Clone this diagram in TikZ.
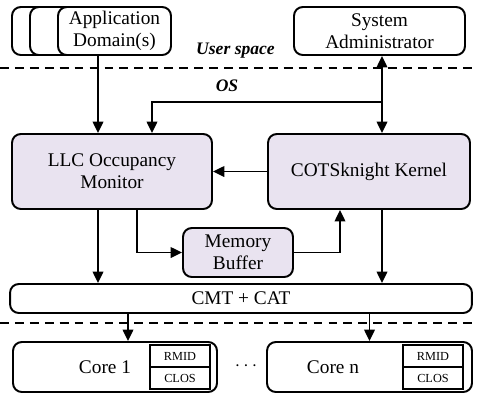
\documentclass[tikz,border=0pt]{standalone}
\usepackage{fontspec}
\setmainfont{Liberation Serif}
\usetikzlibrary{arrows.meta}

\definecolor{lavender}{RGB}{233,227,240}

\tikzset{
    box/.style={draw, line width=1.1pt, rounded corners=5pt, align=center, inner sep=0pt},
    pbox/.style={box, fill=lavender},
    cell/.style={draw, line width=0.6pt, minimum width=1.2cm, minimum height=0.44cm, inner sep=0pt, font=\fontsize{7}{8}\selectfont},
    lbl/.style={font=\bfseries\itshape}
}

\begin{document}
\begin{tikzpicture}[x=0.02cm, y=-0.02cm, line width=1.1pt, >={Triangle[length=6.5pt,width=6pt]},
    every node/.append style={font=\fontsize{11}{12.5}\selectfont}]
    \useasboundingbox (0,0) rectangle (477,393);

    % user space
    \node[box, minimum width=2.26cm, minimum height=0.96cm] (appc) at (68.5,31) {};
    \node[box, fill=white, minimum width=2.26cm, minimum height=0.96cm] (appb) at (86.5,31) {};
    \node[box, fill=white, minimum width=2.26cm, minimum height=0.96cm] (app) at (114.5,31) {Application\\Domain(s)};
    \node[box, minimum width=3.42cm, minimum height=0.96cm] (admin) at (379.5,31) {System\\Administrator};
    \node[lbl] (user) at (235.5,51) {User space};
    \draw[dashed, dash pattern=on 5pt off 3.5pt] (0,68) -- (477,68);
    \node[lbl] (os) at (227,85.5) {OS};

    % OS
    \node[pbox, minimum width=4cm, minimum height=1.5cm] (llc) at (112,171.5) {LLC Occupancy\\Monitor};
    \node[pbox, minimum width=4.04cm, minimum height=1.5cm] (cots) at (369,171.5) {COTSknight Kernel};
    \node[pbox, minimum width=2.2cm, minimum height=0.98cm] (mem) at (238,252.5) {Memory\\Buffer};
    \node[box, minimum width=9.24cm, minimum height=0.58cm] (cmt) at (241,298.5) {CMT + CAT};
    \draw[dashed, dash pattern=on 5pt off 3.5pt] (0,323) -- (477,323);

    % cores
    \node[box, minimum width=4.08cm, minimum height=1cm] (core1) at (115,367) {};
    \node (core1t) at (105,367) {Core 1};
    \node[cell] (rmid1) at (180,356) {RMID};
    \node[cell] (clos1) at (180,378) {CLOS};
    \node (dots) at (246,366) {$\cdots$};
    \node[box, minimum width=4.1cm, minimum height=1cm] (coren) at (369.5,367) {};
    \node (corent) at (333,367) {Core n};
    \node[cell] (rmidn) at (433,356) {RMID};
    \node[cell] (closn) at (433,378) {CLOS};

    % connectors
    \coordinate (appout) at ([xshift=-0.33cm]app.south);
    \path (cots.south) ++(13,0) coordinate (cotsout);
    \path (admin.south) ++(0,46) coordinate (osjoin);
    \coordinate (osjoin) at (cotsout |- osjoin);
    \path (llc.north) ++(40,0) coordinate (osin);
    \path (llc.south) ++(25,0) coordinate (llcmem);
    \path (cots.south) ++(-29,0) coordinate (memcots);
    \path (core1.north) ++(13,0) coordinate (c1in);

    \draw[->] (appout) -- (appout |- llc.north);
    \draw[<->] (cotsout |- admin.south) -- (cotsout |- cots.north);
    \draw[->] (osjoin) -| (osin);
    \draw[->] (cots.west) -- (llc.east);
    \draw[->] (appout |- llc.south) -- (appout |- cmt.north);
    \draw[->] (llcmem) |- (mem.west);
    \draw[->] (mem.east) -| (memcots);
    \draw[->] (cotsout) -- (cotsout |- cmt.north);
    \draw[->] (c1in |- cmt.south) -- (c1in);
    \draw[->] (coren.north |- cmt.south) -- (coren.north);
\end{tikzpicture}
\end{document}
